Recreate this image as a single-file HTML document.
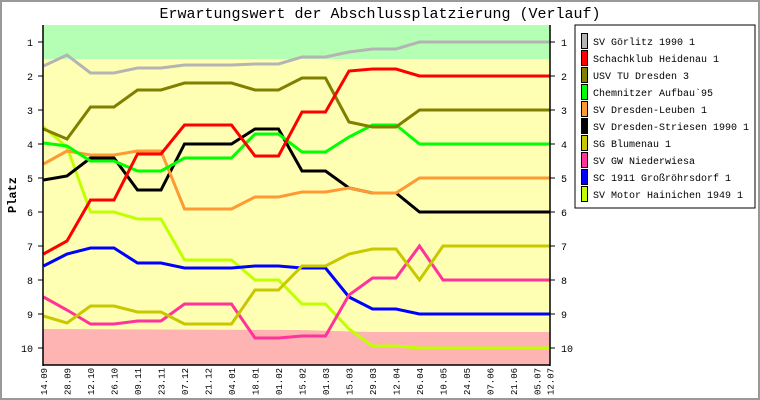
<!DOCTYPE html>
<html><head><meta charset="utf-8"><style>
html,body{margin:0;padding:0;background:#fff}
svg{display:block}
text{font-family:"Liberation Mono","DejaVu Sans Mono",monospace}
</style></head><body>
<svg id="c" width="760" height="400" xmlns="http://www.w3.org/2000/svg">
<rect x="0" y="0" width="760" height="400" fill="#fff"/>
<rect x="1" y="1" width="758" height="398" fill="none" stroke="#999" stroke-width="2"/>
<text x="380" y="18" font-size="15" text-anchor="middle">Erwartungswert der Abschlussplatzierung (Verlauf)</text>
<rect x="43" y="25" width="507" height="340" fill="#ffffb4"/>
<rect x="43" y="25" width="507" height="34" fill="#b4ffb4"/>
<polygon points="43,329 300,330 370,332 550,332 550,365 43,365" fill="#ffb4b4"/>
<g id="lines" fill="none" stroke-width="3" stroke-linejoin="miter"></g>
<line x1="43" y1="25" x2="43" y2="366" stroke="#000" stroke-width="1.5"/>
<line x1="550" y1="25" x2="550" y2="366" stroke="#000" stroke-width="1.5"/>
<line x1="43" y1="365" x2="550" y2="365" stroke="#000" stroke-width="1.5"/>
<g id="ticks"></g>
<text transform="translate(16,195) rotate(-90)" font-size="12" font-weight="bold" text-anchor="middle">Platz</text>
<rect x="575" y="25" width="180" height="183" fill="#fff" stroke="#000" stroke-width="1"/>
<g id="legend"></g>
</svg>
<script>
var NS="http://www.w3.org/2000/svg";
function el(t,a,p,txt){var e=document.createElementNS(NS,t);for(var k in a)e.setAttribute(k,a[k]);if(txt!=null)e.textContent=txt;p.appendChild(e);return e;}
var X=[];for(var i=0;i<22;i++)X.push(43.5+i*23.5);X.push(550);
function ext(a){while(a.length<23)a.push(a[a.length-1]);return a;}
var S=[
["#b4b4b4","SV Görlitz 1990 1",[66,55,73,73,68,68,65,65,65,64,64,57,57,52,49,49,42]],
["#ff0000","Schachklub Heidenau 1",[254,241,200,200,154,154,125,125,125,156,156,112,112,71,69,69,76]],
["#808000","USV TU Dresden 3",[129,139,107,107,90,90,83,83,83,90,90,78,78,122,127,127,110]],
["#00ff00","Chemnitzer Aufbau`95",[143,146,161,161,171,171,158,158,158,134,134,152,152,137,125,125,144]],
["#ff9933","SV Dresden-Leuben 1",[164,151,155,155,151,151,209,209,209,197,197,192,192,188,193,193,178]],
["#000000","SV Dresden-Striesen 1990 1",[180,176,158,158,190,190,144,144,144,129,129,171,171,188,193,193,212]],
["#c8c800","SG Blumenau 1",[316,323,306,306,312,312,324,324,324,290,290,266,266,254,249,249,280,246]],
["#ff3399","SV GW Niederwiesa",[297,310,324,324,321,321,304,304,304,338,338,336,336,295,278,278,246,280]],
["#0000ff","SC 1911 Großröhrsdorf 1",[266,254,248,248,263,263,268,268,268,266,266,268,268,297,309,309,314]],
["#c0ff00","SV Motor Hainichen 1949 1",[127,147,212,212,219,219,260,260,260,280,280,304,304,329,346,346,348]]
];
var g=document.getElementById('lines');
[9,8,7,6,5,4,3,2,1,0].forEach(function(k){var s=S[k];var d=ext(s[2].slice());var pts=d.map(function(v,i){return X[i]+","+v;}).join(" ");el('polyline',{points:pts,stroke:s[0]},g);});
var tk=document.getElementById('ticks');
for(var v=1;v<=10;v++){var y=42+34*(v-1);
el('line',{x1:38,y1:y,x2:43,y2:y,stroke:'#000'},tk);
el('line',{x1:550,y1:y,x2:555,y2:y,stroke:'#000'},tk);
el('text',{x:33,y:y+4,'font-size':10,'text-anchor':'end'},tk,v);
el('text',{x:561,y:y+4,'font-size':10},tk,v);}
var L=["14.09","28.09","12.10","26.10","09.11","23.11","07.12","21.12","04.01","18.01","01.02","15.02","01.03","15.03","29.03","12.04","26.04","10.05","24.05","07.06","21.06","05.07","12.07"];
L.forEach(function(t,i){var x=X[i]+3.5;el('text',{transform:'translate('+x+',395) rotate(-90)','font-size':9},tk,t);});
var lg=document.getElementById('legend');
S.forEach(function(s,i){var y=41+17*i;
el('rect',{x:581.5,y:y-7.5,width:6,height:15,fill:s[0],stroke:'#000','stroke-width':1},lg);
el('text',{x:593,y:y+4,'font-size':10},lg,s[1]);});
</script>
</body></html>
